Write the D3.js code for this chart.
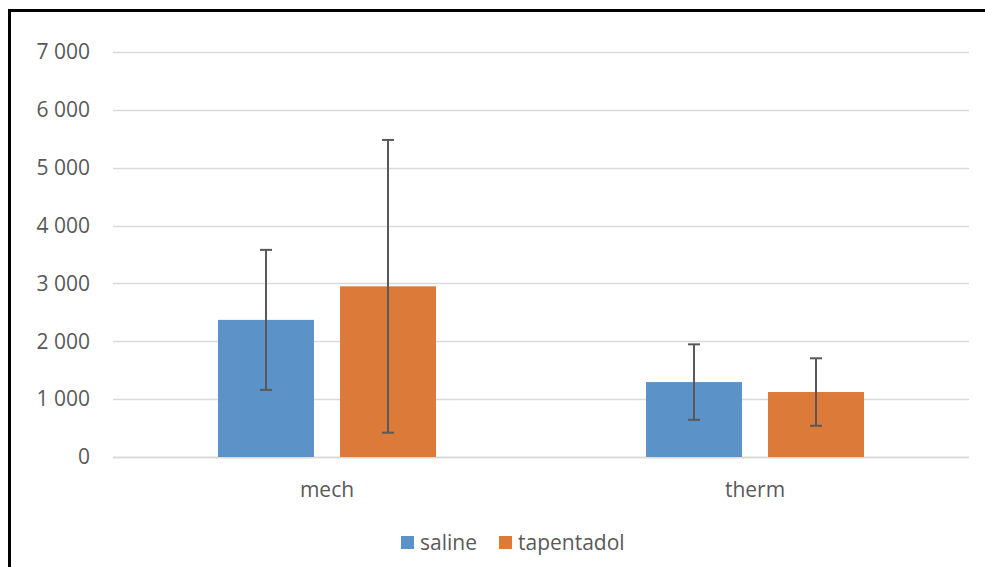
<!DOCTYPE html>
<html><head><meta charset="utf-8">
<script src="https://cdn.jsdelivr.net/npm/d3@7"></script>
<style>body{margin:0;background:#fff}svg{display:block}</style>
</head><body>
<svg id="c" width="985" height="567"></svg>
<script>
const categories = ["mech", "therm"];
const seriesNames = ["saline", "tapentadol"];
const salineValues = [2370, 1295];
const salineErrors = [1210, 652];
const tapentadolValues = [2950, 1123];
const tapentadolErrors = [2530, 583];
const yTicks = [0, 1000, 2000, 3000, 4000, 5000, 6000, 7000];
const colors = ["#5b93c9", "#dc7a3a"];

const svg = d3.select("#c");
const font = "'Open Sans', sans-serif";
const textColor = "#595959";
const fs = "21px";

svg.append("rect").attr("x", 9.5).attr("y", 10.5).attr("width", 1000).attr("height", 600)
  .attr("fill", "#fff").attr("stroke", "#000").attr("stroke-width", 3);

const x0 = d3.scaleBand().domain(categories).range([113, 969]);
const x1 = d3.scaleBand().domain(seriesNames).range([0, 218]).paddingInner(0.213);
const y = d3.scaleLinear().domain([0, 7000]).range([457, 52]);

// gridlines
svg.append("g").selectAll("line").data(yTicks).join("line")
  .attr("x1", 113).attr("x2", 969)
  .attr("y1", d => Math.round(y(d)) + 0.5).attr("y2", d => Math.round(y(d)) + 0.5)
  .attr("stroke", "#d9d9d9").attr("stroke-width", d => d === 0 ? 2 : 1.3);

// y axis labels
svg.append("g").selectAll("text").data(yTicks).join("text")
  .attr("x", 90).attr("y", d => y(d)).attr("dy", "0.35em")
  .attr("text-anchor", "end").attr("fill", textColor)
  .style("font-family", font).style("font-size", fs)
  .text(d => d3.format(",")(d).replace(/,/g, " "));

const series = [
  {name: "saline", values: salineValues, errors: salineErrors},
  {name: "tapentadol", values: tapentadolValues, errors: tapentadolErrors}
];

series.forEach((s, si) => {
  const g = svg.append("g");
  const bx = i => x0(categories[i]) + (x0.bandwidth() - 218) / 2 + x1(s.name);
  g.selectAll("rect").data(s.values).join("rect")
    .attr("x", (d, i) => bx(i)).attr("y", d => y(d))
    .attr("width", x1.bandwidth()).attr("height", d => y(0) - y(d))
    .attr("fill", colors[si]);
  const eg = svg.append("g").attr("stroke", "#595959").attr("stroke-width", 2);
  s.values.forEach((v, i) => {
    const cx = bx(i) + x1.bandwidth() / 2;
    const top = y(v + s.errors[i]), bot = y(v - s.errors[i]);
    eg.append("line").attr("x1", cx).attr("x2", cx).attr("y1", top).attr("y2", bot);
    eg.append("line").attr("x1", cx - 6).attr("x2", cx + 6).attr("y1", top).attr("y2", top);
    eg.append("line").attr("x1", cx - 6).attr("x2", cx + 6).attr("y1", bot).attr("y2", bot);
  });
});

// category labels
svg.append("g").selectAll("text").data(categories).join("text")
  .attr("x", d => x0(d) + x0.bandwidth() / 2).attr("y", 497)
  .attr("text-anchor", "middle").attr("fill", textColor)
  .style("font-family", font).style("font-size", fs)
  .text(d => d);

// legend
const legendX = [401, 499];
const lg = svg.append("g");
seriesNames.forEach((n, i) => {
  lg.append("rect").attr("x", legendX[i]).attr("y", 536).attr("width", 13).attr("height", 13).attr("fill", colors[i]);
  lg.append("text").attr("x", legendX[i] + 19).attr("y", 550).attr("fill", textColor)
    .style("font-family", font).style("font-size", fs).text(n);
});
</script>
</body></html>
